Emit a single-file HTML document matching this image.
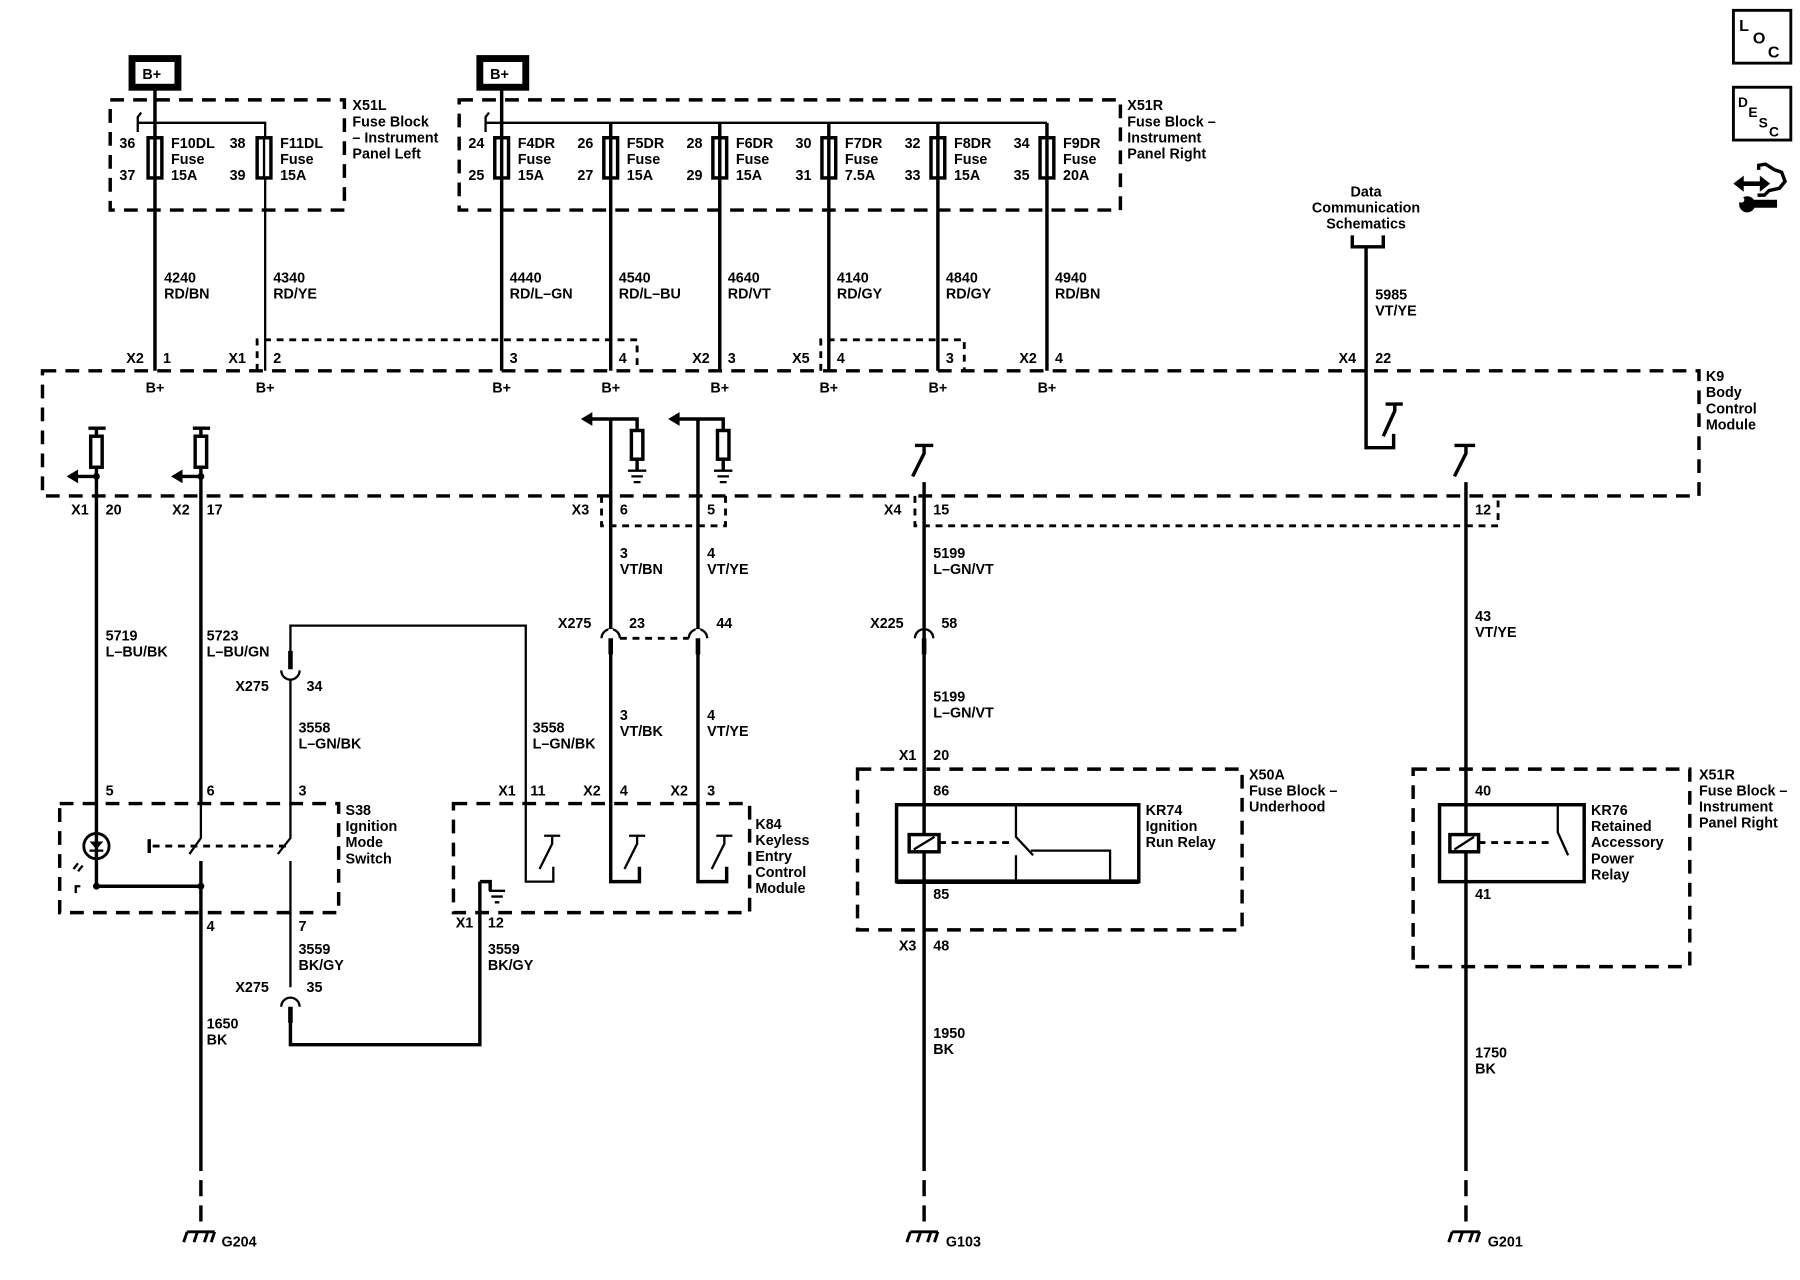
<!DOCTYPE html>
<html><head><meta charset="utf-8"><style>
html,body{margin:0;padding:0;background:#fff}
svg{display:block}
text{font-family:"Liberation Sans",sans-serif;font-size:12.5px;font-weight:bold;fill:#000}
.w{stroke:#000;stroke-width:3;fill:none}
.t{stroke:#000;stroke-width:2;fill:none}
.d{stroke:#000;stroke-width:3;fill:none;stroke-dasharray:12 8}
.s{stroke:#000;stroke-width:2.5;fill:none;stroke-dasharray:6 5}
</style></head><body>
<svg width="1800" height="1280" viewBox="0 0 1568 1115" preserveAspectRatio="none" xmlns="http://www.w3.org/2000/svg">
<!-- B+ boxes -->
<rect x="115" y="51" width="40" height="25" fill="none" stroke="#000" stroke-width="6"/>
<text x="124" y="69">B+</text>
<rect x="418" y="51" width="40" height="25" fill="none" stroke="#000" stroke-width="6"/>
<text x="427" y="69">B+</text>

<!-- X51L -->
<rect x="96" y="87" width="204" height="96" class="d"/>
<text x="307" y="96">X51L</text><text x="307" y="110">Fuse Block</text><text x="307" y="124">– Instrument</text><text x="307" y="138">Panel Left</text>
<path class="w" d="M135 78V323"/>
<path class="t" d="M120 107H231V323"/>
<path class="t" d="M120 115V102l3-4"/>
<rect x="129" y="120" width="12" height="35" fill="#fff" stroke="#000" stroke-width="3"/>
<rect x="224" y="120" width="12" height="35" fill="#fff" stroke="#000" stroke-width="3"/>
<path class="w" d="M135 120V155"/><path class="t" d="M230 120V155"/>
<text x="104" y="129">36</text><text x="104" y="157">37</text>
<text x="149" y="129">F10DL</text><text x="149" y="143">Fuse</text><text x="149" y="157">15A</text>
<text x="200" y="129">38</text><text x="200" y="157">39</text>
<text x="244" y="129">F11DL</text><text x="244" y="143">Fuse</text><text x="244" y="157">15A</text>

<!-- X51R -->
<rect x="400" y="87" width="576" height="96" class="d"/>
<text x="982" y="96">X51R</text><text x="982" y="110">Fuse Block –</text><text x="982" y="124">Instrument</text><text x="982" y="138">Panel Right</text>
<path class="w" d="M437 78V323"/>
<path class="t" d="M423 107H912"/>
<path class="t" d="M423 115V102l3-4"/>
<g class="w"><path d="M532 107V323"/><path d="M627 107V323"/><path d="M722 107V323"/><path d="M817 107V323"/><path d="M912 107V323"/></g>
<g fill="#fff" stroke="#000" stroke-width="3">
<rect x="431" y="120" width="12" height="35"/><rect x="526" y="120" width="12" height="35"/><rect x="621" y="120" width="12" height="35"/><rect x="716" y="120" width="12" height="35"/><rect x="811" y="120" width="12" height="35"/><rect x="906" y="120" width="12" height="35"/></g>
<g class="w"><path d="M437 120V155M532 120V155M627 120V155M722 120V155M817 120V155M912 120V155"/></g>
<text x="408" y="129">24</text><text x="408" y="157">25</text><text x="451" y="129">F4DR</text><text x="451" y="143">Fuse</text><text x="451" y="157">15A</text>
<text x="503" y="129">26</text><text x="503" y="157">27</text><text x="546" y="129">F5DR</text><text x="546" y="143">Fuse</text><text x="546" y="157">15A</text>
<text x="598" y="129">28</text><text x="598" y="157">29</text><text x="641" y="129">F6DR</text><text x="641" y="143">Fuse</text><text x="641" y="157">15A</text>
<text x="693" y="129">30</text><text x="693" y="157">31</text><text x="736" y="129">F7DR</text><text x="736" y="143">Fuse</text><text x="736" y="157">7.5A</text>
<text x="788" y="129">32</text><text x="788" y="157">33</text><text x="831" y="129">F8DR</text><text x="831" y="143">Fuse</text><text x="831" y="157">15A</text>
<text x="883" y="129">34</text><text x="883" y="157">35</text><text x="926" y="129">F9DR</text><text x="926" y="143">Fuse</text><text x="926" y="157">20A</text>

<!-- wire labels -->
<text x="143" y="246">4240</text><text x="143" y="260">RD/BN</text>
<text x="238" y="246">4340</text><text x="238" y="260">RD/YE</text>
<text x="444" y="246">4440</text><text x="444" y="260">RD/L–GN</text>
<text x="539" y="246">4540</text><text x="539" y="260">RD/L–BU</text>
<text x="634" y="246">4640</text><text x="634" y="260">RD/VT</text>
<text x="729" y="246">4140</text><text x="729" y="260">RD/GY</text>
<text x="824" y="246">4840</text><text x="824" y="260">RD/GY</text>
<text x="919" y="246">4940</text><text x="919" y="260">RD/BN</text>

<!-- connector labels top -->
<text x="110" y="316">X2</text><text x="142" y="316">1</text>
<text x="199" y="316">X1</text><text x="238" y="316">2</text>
<text x="444" y="316">3</text><text x="539" y="316">4</text>
<text x="603" y="316">X2</text><text x="634" y="316">3</text>
<text x="690" y="316">X5</text><text x="729" y="316">4</text>
<text x="824" y="316">3</text>
<text x="888" y="316">X2</text><text x="919" y="316">4</text>
<text x="1166" y="316">X4</text><text x="1198" y="316">22</text>
<path class="s" d="M224 323V296H555V323"/>
<path class="s" d="M715 323V296H840V323"/>

<!-- K9 -->
<rect x="37" y="323" width="1443" height="109" class="d"/>
<text x="1486" y="332">K9</text><text x="1486" y="346">Body</text><text x="1486" y="360">Control</text><text x="1486" y="374">Module</text>
<g text-anchor="middle"><text x="135" y="342">B+</text><text x="231" y="342">B+</text><text x="437" y="342">B+</text><text x="532" y="342">B+</text><text x="627" y="342">B+</text><text x="722" y="342">B+</text><text x="817" y="342">B+</text><text x="912" y="342">B+</text></g>

<!-- left pullups -->
<g class="w"><path d="M77 373H92"/><path d="M84 373V380"/><path d="M84 407V772"/>
<path d="M168 373H183"/><path d="M175 373V380"/><path d="M175 407V700"/>
<path d="M84 415H66"/><path d="M175 415H157"/></g>
<rect x="79" y="380" width="10" height="27" fill="#fff" stroke="#000" stroke-width="3"/>
<rect x="170" y="380" width="10" height="27" fill="#fff" stroke="#000" stroke-width="3"/>
<path d="M58 415l10-6v12z M149 415l10-6v12z" fill="#000"/>
<circle cx="84" cy="415" r="3"/><circle cx="175" cy="415" r="3"/>
<text x="62" y="448">X1</text><text x="92" y="448">20</text>
<text x="150" y="448">X2</text><text x="180" y="448">17</text>

<!-- middle pullups with ground -->
<g class="w"><path d="M532 365V700"/><path d="M608 365V700"/>
<path d="M514 365H555V375"/><path d="M590 365H630V375"/>
<path d="M555 400V410"/><path d="M630 400V410"/></g>
<path d="M506 365l10-6v12z M582 365l10-6v12z" fill="#000"/>
<rect x="550" y="375" width="10" height="25" fill="#fff" stroke="#000" stroke-width="3"/>
<rect x="625" y="375" width="10" height="25" fill="#fff" stroke="#000" stroke-width="3"/>
<g class="t"><path d="M547 410H563M550 415H560M552 420H558"/><path d="M622 410H638M625 415H635M627 420H633"/></g>
<path class="s" d="M524 432V458H632V432"/>
<text x="498" y="448">X3</text><text x="540" y="448">6</text><text x="616" y="448">5</text>
<text x="540" y="486">3</text><text x="540" y="500">VT/BN</text>
<text x="616" y="486">4</text><text x="616" y="500">VT/YE</text>
<!-- X275 23/44 -->
<path class="t" d="M524 556a8 8 0 0 1 16 0"/><path class="t" d="M600 556a8 8 0 0 1 16 0"/>
<path class="s" d="M540 556H600"/>
<path d="M530 548h4v18h-4z M606 548h4v18h-4z" fill="#fff"/>
<path d="M530 556h4v14h-4z M606 556h4v14h-4z" fill="#000"/>
<text x="486" y="547">X275</text><text x="548" y="547">23</text><text x="624" y="547">44</text>
<text x="540" y="627">3</text><text x="540" y="641">VT/BK</text>
<text x="616" y="627">4</text><text x="616" y="641">VT/YE</text>

<!-- center switch X4/15 -->
<g class="w"><path d="M797 388H813"/><path d="M805 388V395L795 415"/><path d="M805 420V1020"/></g>
<path class="s" d="M797 432V458H1305V432"/>
<text x="770" y="448">X4</text><text x="813" y="448">15</text><text x="1285" y="448">12</text>
<text x="813" y="486">5199</text><text x="813" y="500">L–GN/VT</text>
<path class="t" d="M797 556a8 8 0 0 1 16 0"/>
<path d="M803 556h4v14h-4z" fill="#000"/>
<text x="758" y="547">X225</text><text x="820" y="547">58</text>
<text x="813" y="611">5199</text><text x="813" y="625">L–GN/VT</text>
<text x="783" y="662">X1</text><text x="813" y="662">20</text>

<!-- X50A / KR74 -->
<rect x="747" y="670" width="335" height="140" class="d"/>
<text x="1088" y="679">X50A</text><text x="1088" y="693">Fuse Block –</text><text x="1088" y="707">Underhood</text>
<text x="813" y="693">86</text><text x="813" y="783">85</text>
<rect x="781" y="701" width="211" height="67" fill="none" stroke="#000" stroke-width="3"/>
<path d="M781 768H992" stroke="#000" stroke-width="4"/>
<rect x="792" y="727" width="26" height="15" fill="#fff" stroke="#000" stroke-width="3"/>
<path d="M796 740l18-11" stroke="#000" stroke-width="2"/>
<path class="s" d="M818 734H880"/>
<g class="t"><path d="M885 701V729L900 745"/><path d="M885 745V768"/><path d="M898 741H967V768"/></g>
<text x="998" y="710">KR74</text><text x="998" y="724">Ignition</text><text x="998" y="738">Run Relay</text>
<text x="783" y="828">X3</text><text x="813" y="828">48</text>
<text x="813" y="904">1950</text><text x="813" y="918">BK</text>

<!-- right switch & KR76 -->
<g class="w"><path d="M1267 388H1285"/><path d="M1277 388V395L1267 415"/><path d="M1277 420V1020"/></g>
<text x="1285" y="541">43</text><text x="1285" y="555">VT/YE</text>
<rect x="1231" y="670" width="241" height="172" class="d"/>
<text x="1480" y="679">X51R</text><text x="1480" y="693">Fuse Block –</text><text x="1480" y="707">Instrument</text><text x="1480" y="721">Panel Right</text>
<text x="1285" y="693">40</text><text x="1285" y="783">41</text>
<rect x="1254" y="701" width="126" height="67" fill="none" stroke="#000" stroke-width="3"/>
<rect x="1263" y="727" width="25" height="15" fill="#fff" stroke="#000" stroke-width="3"/>
<path d="M1267 740l17-11" stroke="#000" stroke-width="2"/>
<path class="s" d="M1288 734H1350"/>
<path class="t" d="M1357 701V725L1366 745"/>
<text x="1386" y="710">KR76</text><text x="1386" y="724">Retained</text><text x="1386" y="738">Accessory</text><text x="1386" y="752">Power</text><text x="1386" y="766">Relay</text>
<text x="1285" y="921">1750</text><text x="1285" y="935">BK</text>

<!-- Data comm -->
<g text-anchor="middle"><text x="1190" y="171">Data</text><text x="1190" y="185">Communication</text><text x="1190" y="199">Schematics</text></g>
<path class="w" d="M1178 205V215H1205V205"/>
<path class="w" d="M1190 215V390H1214V378"/>
<path class="w" d="M1207 352H1222M1215 352V358L1205 380"/>
<text x="1198" y="261">5985</text><text x="1198" y="275">VT/YE</text>

<!-- left lower wires -->
<text x="92" y="558">5719</text><text x="92" y="572">L–BU/BK</text>
<text x="180" y="558">5723</text><text x="180" y="572">L–BU/GN</text>
<path class="t" d="M253 580V545H458V768H482V755"/>
<path class="t" d="M245 584a8 8 0 0 0 16 0"/>
<path d="M251 567h4v16h-4z" fill="#000"/>
<path class="t" d="M253 592V700"/>
<text x="205" y="602">X275</text><text x="267" y="602">34</text>
<text x="260" y="638">3558</text><text x="260" y="652">L–GN/BK</text>
<text x="464" y="638">3558</text><text x="464" y="652">L–GN/BK</text>

<!-- S38 -->
<rect x="52" y="700" width="243" height="95" class="d"/>
<text x="301" y="710">S38</text><text x="301" y="724">Ignition</text><text x="301" y="738">Mode</text><text x="301" y="752">Switch</text>
<text x="92" y="693">5</text><text x="180" y="693">6</text><text x="260" y="693">3</text>
<circle cx="84" cy="737" r="11" fill="none" stroke="#000" stroke-width="2.5"/>
<path d="M78 733h12l-6 7z" fill="#000"/><path class="t" d="M78 741H90"/>
<path class="t" d="M68 752l-4 5M72 754l-4 5"/>
<path class="t" d="M66 778v-6h4"/>
<path class="w" d="M84 772H175"/>
<circle cx="84" cy="772" r="3"/><circle cx="175" cy="772" r="3"/>
<g class="t"><path d="M175 700V730L165 744"/><path d="M253 700V730L242 744"/><path d="M253 750V860"/></g>
<path class="w" d="M175 750V1020"/>
<path d="M130 731v12" stroke="#000" stroke-width="3"/>
<path class="s" d="M133 737H250"/>
<text x="180" y="811">4</text><text x="260" y="811">7</text>
<text x="260" y="831">3559</text><text x="260" y="845">BK/GY</text>
<path class="t" d="M245 877a8 8 0 0 1 16 0"/>
<path d="M251 877h4v14h-4z" fill="#000"/>
<path class="w" d="M253 890V910H418V768"/>
<text x="205" y="864">X275</text><text x="267" y="864">35</text>
<text x="180" y="896">1650</text><text x="180" y="910">BK</text>

<!-- K84 -->
<rect x="395" y="700" width="258" height="95" class="d"/>
<text x="658" y="722">K84</text><text x="658" y="736">Keyless</text><text x="658" y="750">Entry</text><text x="658" y="764">Control</text><text x="658" y="778">Module</text>
<text x="434" y="693">X1</text><text x="462" y="693">11</text>
<text x="508" y="693">X2</text><text x="540" y="693">4</text>
<text x="584" y="693">X2</text><text x="616" y="693">3</text>
<path class="w" d="M418 768H427V776"/>
<g class="t"><path d="M426 776H440M428 781H438M431 786H435"/></g>
<g class="w"><path d="M532 700V768H557V755"/><path d="M608 700V768H633V755"/></g>
<g class="t"><path d="M474 728H488M481 728V735L470 757"/>
<path d="M548 728H562M555 728V735L544 757"/>
<path d="M624 728H638M631 728V735L620 757"/></g>
<text x="397" y="808">X1</text><text x="425" y="808">12</text>
<text x="425" y="831">3559</text><text x="425" y="845">BK/GY</text>

<!-- grounds -->
<g class="w"><path d="M175 1028V1042M175 1050V1064"/><path d="M805 1028V1042M805 1050V1064"/><path d="M1277 1028V1042M1277 1050V1064"/></g>
<g stroke="#000" stroke-width="2.5" fill="none">
<path d="M163 1073H187M163 1073l-3 9M172 1073l-3 9M181 1073l-3 9M187 1073l-3 9"/>
<path d="M793 1073H817M793 1073l-3 9M802 1073l-3 9M811 1073l-3 9M817 1073l-3 9"/>
<path d="M1265 1073H1289M1265 1073l-3 9M1274 1073l-3 9M1283 1073l-3 9M1289 1073l-3 9"/></g>
<text x="193" y="1086">G204</text><text x="824" y="1086">G103</text><text x="1296" y="1086">G201</text>

<!-- icons -->
<rect x="1510" y="9" width="50" height="46" fill="none" stroke="#000" stroke-width="2.5"/>
<text x="1515" y="27" style="font-size:14px">L</text><text x="1527" y="38" style="font-size:14px">O</text><text x="1540" y="50" style="font-size:14px">C</text>
<rect x="1510" y="76" width="50" height="46" fill="none" stroke="#000" stroke-width="2.5"/>
<text x="1514" y="93" style="font-size:12px">D</text><text x="1523" y="102" style="font-size:12px">E</text><text x="1532" y="111" style="font-size:12px">S</text><text x="1541" y="119" style="font-size:12px">C</text>
<path d="M1510 160l9-7v5h14v-5l9 7-9 7v-5h-14v5z" fill="#000"/>
<path d="M1532 148v-4l6-1 8 5 6 2 3 8-5 6-9 2-4 4h-6" stroke="#000" stroke-width="3" fill="none"/>
<path d="M1522 174h26v7h-26z" fill="#000"/><circle cx="1522" cy="178" r="7" fill="#000"/><circle cx="1517" cy="174" r="2.5" fill="#fff"/>
</svg>
</body></html>
